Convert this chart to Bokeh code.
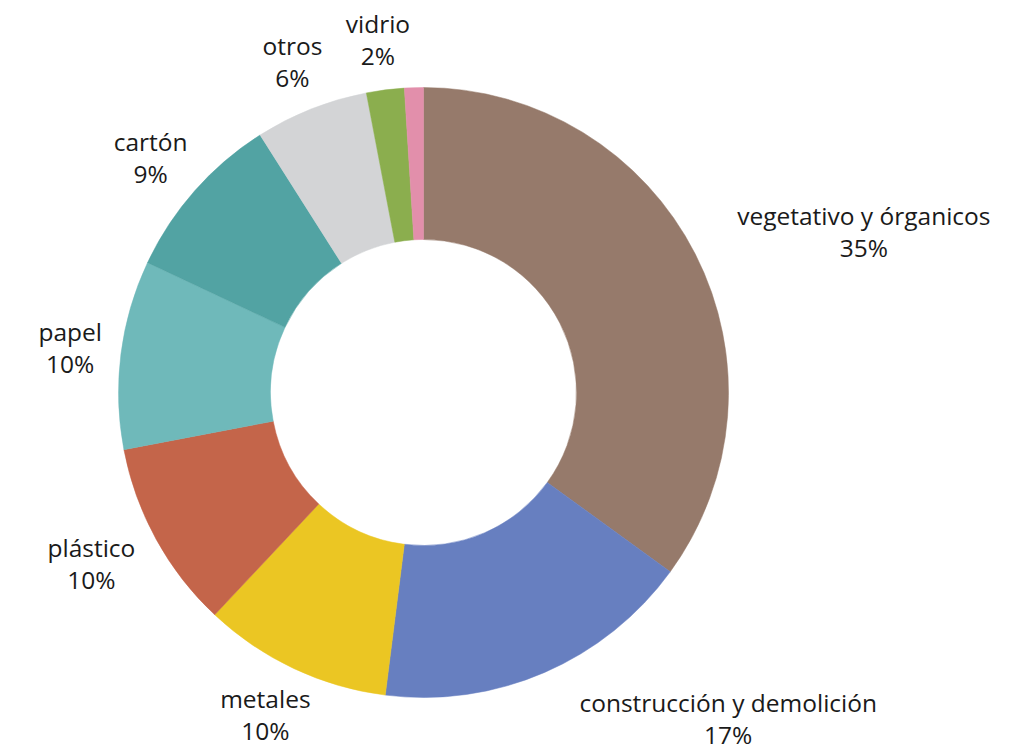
import math
from bokeh.plotting import figure
from bokeh.models import ColumnDataSource, Range1d
from bokeh.core.properties import value
from bokeh.embed import file_html
from bokeh.resources import INLINE

# ---- data ----
categories = ["vegetativo y órganicos", "construcción y demolición", "metales",
              "plástico", "papel", "cartón", "otros", "vidrio", "otro"]
percent = [35, 17, 10, 10, 10, 9, 6, 2, 1]
show_label = [True, True, True, True, True, True, True, True, False]
colors = ["#967A6B", "#677FC0", "#EBC623", "#C4654A", "#6FB9BA",
          "#52A3A3", "#D3D4D6", "#8BAE4E", "#E28FAB"]

W, H = 1011, 752
CX, CY = 423, H - 392
R_OUT, R_IN = 305, 153
FONT = "Open Sans"
FS = 24.5
LINE = 32

p = figure(width=W, height=H, output_backend="svg", toolbar_location=None,
           x_range=Range1d(0, W), y_range=Range1d(0, H), min_border=0)
p.axis.visible = False
p.grid.visible = False
p.outline_line_color = None
p.background_fill_color = "white"
p.border_fill_color = "white"

total = float(sum(percent))
starts, ends, mids = [], [], []
cum = 0.0
for v in percent:
    f0 = cum / total
    cum += v
    f1 = cum / total
    starts.append(math.pi / 2 - 2 * math.pi * f0)
    ends.append(math.pi / 2 - 2 * math.pi * f1)
    mids.append(2 * math.pi * (f0 + f1) / 2)  # clockwise from top

src = ColumnDataSource(dict(start=starts, end=ends, color=colors))
p.annular_wedge(x=CX, y=CY, inner_radius=R_IN, outer_radius=R_OUT,
                start_angle="start", end_angle="end", direction="clock",
                fill_color="color", line_color="color", line_width=0.5,
                source=src)

# ---- labels ----
lx, ly, lt = [], [], []
for name, v, show, m in zip(categories, percent, show_label, mids):
    if not show:
        continue
    s, c = math.sin(m), math.cos(m)
    r = R_OUT + 13
    px = CX + r * s
    py = CY + r * c
    pct = f"{v}%"
    w = max(len(name), len(pct)) * 12.2
    h = 2 * LINE - 4
    sx = 1.17 if s > 0 else 1.25 * s
    sy = 1.25 * c
    bx = px + sx * w / 2
    by = py + sy * h / 2
    lx += [bx, bx]
    ly += [by + LINE / 2, by - LINE / 2]
    lt += [name, pct]

p.text(x=lx, y=ly, text=lt, text_align="center", text_baseline="middle",
       text_font=value(FONT), text_font_size=f"{FS}px", text_color="#1a1a1a")

open("out.html", "w").write(file_html(p, INLINE))
